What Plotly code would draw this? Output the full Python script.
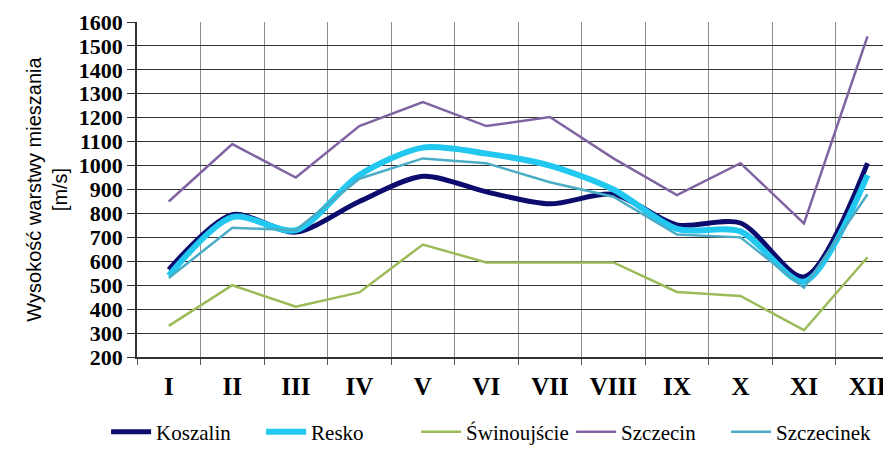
import plotly.graph_objects as go

months = ["I", "II", "III", "IV", "V", "VI", "VII", "VIII", "IX", "X", "XI", "XII"]

koszalin = [565, 795, 722, 850, 955, 890, 840, 880, 752, 760, 535, 1010]
resko = [540, 785, 730, 960, 1075, 1050, 1000, 900, 735, 725, 515, 960]
swinoujscie = [330, 500, 410, 470, 670, 595, 595, 595, 472, 455, 312, 617]
szczecin = [850, 1090, 950, 1165, 1265, 1165, 1203, 1030, 877, 1010, 758, 1540]
szczecinek = [530, 740, 730, 945, 1030, 1010, 930, 870, 712, 700, 490, 880]

y_ticks = list(range(200, 1700, 100))

series = [
    ("Koszalin", koszalin, "#0b0c6e", 5, "spline"),
    ("Resko", resko, "#22c8ef", 6, "spline"),
    ("Świnoujście", swinoujscie, "#9bbb59", 2.5, "linear"),
    ("Szczecin", szczecin, "#8064a2", 2.5, "linear"),
    ("Szczecinek", szczecinek, "#4bacc6", 2.5, "linear"),
]

fig = go.Figure()
for name, values, color, width, shape in series:
    fig.add_trace(
        go.Scatter(
            x=months,
            y=values,
            mode="lines",
            name=name,
            line=dict(color=color, width=width, shape=shape, smoothing=0.8),
        )
    )

# page body has an 8px margin, so the figure is made 8px smaller and shifted
fig.update_layout(
    width=883,
    height=449,
    plot_bgcolor="white",
    paper_bgcolor="white",
    margin=dict(l=129, r=0, t=14, b=100, autoexpand=False),
    showlegend=True,
    legend=dict(
        orientation="h",
        x=-0.041,
        xanchor="left",
        y=-0.224,
        yanchor="middle",
        font=dict(family="Liberation Serif", size=21, color="black"),
        itemwidth=40,
        entrywidth=100,
        tracegroupgap=0,
    ),
)

fig.update_xaxes(
    type="category",
    range=[-0.5, 11.37],
    tickson="boundaries",
    showgrid=True,
    gridcolor="#8c8c8c",
    gridwidth=1,
    ticks="outside",
    ticklen=6,
    tickcolor="#555555",
    tickfont=dict(family="Liberation Serif", size=25, color="black", weight="bold"),
    ticklabeloverflow="allow",
    ticklabelstandoff=6,
    showline=True,
    linecolor="#333333",
    linewidth=1.5,
    automargin=False,
)

fig.update_yaxes(
    range=[200, 1600],
    tickvals=y_ticks,
    showgrid=True,
    gridcolor="#333333",
    gridwidth=1.3,
    ticks="outside",
    ticklen=8,
    tickcolor="#333333",
    tickfont=dict(family="Liberation Serif", size=22, color="black", weight="bold"),
    showline=True,
    linecolor="#333333",
    linewidth=1.5,
    zeroline=False,
    automargin=False,
    title=dict(
        text="Wysokość warstwy mieszania<br>[m/s]",
        font=dict(family="Liberation Sans", size=20, color="black"),
        standoff=6,
    ),
)

fig.write_html("out.html")
